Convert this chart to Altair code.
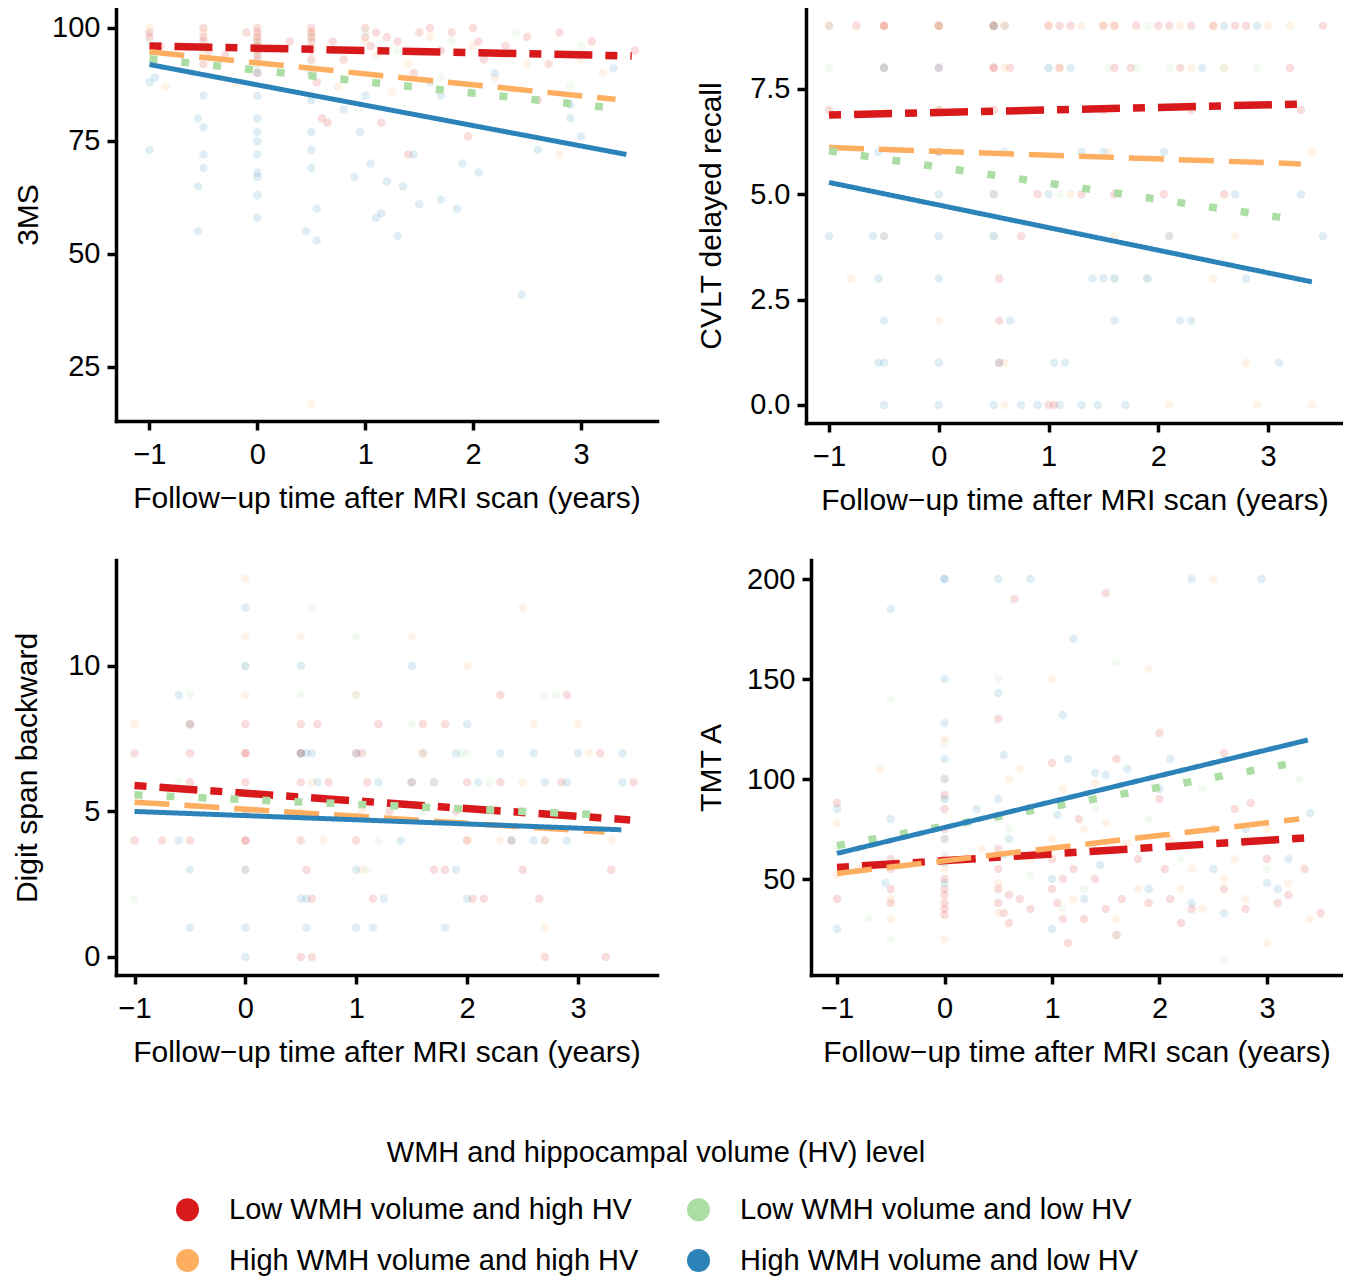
import altair as alt
import pandas as pd

FONT = "Liberation Sans"
FS_TICK = 29
FS_TITLE = 30
FS_LEG = 29

G_LH = "Low WMH volume and high HV"
G_LL = "Low WMH volume and low HV"
G_HH = "High WMH volume and high HV"
G_HL = "High WMH volume and low HV"

GROUPS = [G_LH, G_HH, G_LL, G_HL]
COLORS = ["#d7191c", "#fdae61", "#abdda4", "#2b83ba"]
DASHES = [[12, 13, 38, 13], [35, 15], [8, 24], [1, 0]]
WIDTHS = [7.5, 5.5, 7.5, 5.0]

X_TITLE = "Follow\u2212up time after MRI scan (years)"
X_TICKS = [-1, 0, 1, 2, 3]

# ---------------- 3MS ----------------
MS3_POINTS = {
    G_LH: [(-1, 99), (-1, 98), (-0.9, 96), (-0.5, 100), (-0.5, 98), (-0.5, 97), (-0.45, 95), (-0.5, 92),
           (0, 100), (0, 99), (0, 98), (0, 97), (0, 96), (0, 95), (0, 94), (0, 93), (0, 90), (0.5, 100),
           (0.5, 99), (0.5, 98), (0.5, 97), (0.5, 95), (0.5, 93), (0.55, 88), (0.6, 80), (0.7, 97),
           (1.0, 100), (1.0, 98), (1.05, 96), (1.1, 99), (1.2, 98), (1.3, 97), (1.5, 99), (1.6, 100),
           (1.7, 95), (1.8, 99), (2.0, 100), (2.05, 97), (2.1, 93), (2.3, 96), (2.5, 98), (2.7, 92),
           (2.8, 99), (3.1, 97), (3.3, 94), (3.5, 95), (1.95, 76), (1.15, 79), (0.65, 79), (0.3, 97),
           (-0.3, 94), (-0.1, 99), (1.4, 72), (2.6, 84), (0.8, 93), (1.45, 90)],
    G_HH: [(-1, 100), (-0.85, 87), (-0.5, 99), (-0.5, 95), (0, 98), (0, 96), (0, 92), (0.5, 99),
           (0.5, 96), (0.5, 90), (0.75, 87), (1.0, 97), (1.1, 94), (1.4, 92), (1.6, 98), (2.0, 96),
           (2.2, 89), (2.5, 92), (2.8, 72), (3.0, 93), (0.5, 17), (3.2, 90), (1.25, 86), (-0.2, 88)],
    G_LL: [(-1, 97), (-0.5, 96), (0, 97), (0, 94), (0, 91), (0.5, 98), (0.5, 92), (1.0, 99), (1.3, 95),
           (1.8, 97), (2.4, 99), (3.0, 96), (0.5, 85), (1.7, 89), (2.9, 87), (-0.6, 90)],
    G_HL: [(-1, 88), (-1, 73), (-0.95, 89), (-0.55, 80), (-0.5, 78), (-0.5, 72), (-0.5, 69), (-0.55, 65),
           (-0.55, 55), (-0.5, 85), (0, 90), (0, 85), (0, 80), (0, 77), (0, 75), (0, 72), (0, 68), (0, 63),
           (0, 58), (0, 67), (0.5, 90), (0.5, 84), (0.5, 77), (0.5, 73), (0.5, 69), (0.45, 55), (0.55, 53),
           (0.55, 60), (0.8, 82), (0.95, 77), (1.0, 85), (1.05, 70), (0.9, 67), (1.1, 58), (1.15, 59),
           (1.2, 66), (1.3, 54), (1.35, 65), (1.5, 61), (1.6, 88), (1.7, 62), (1.85, 60), (1.9, 70),
           (2.05, 68), (2.2, 90), (2.45, 41), (2.6, 73), (2.9, 83), (2.9, 80), (3.3, 91), (3.0, 76),
           (1.45, 72), (1.7, 85)],
}
MS3_LINES = {
    G_LH: (-1, 96.0, 3.47, 93.8),
    G_HH: (-1, 94.7, 3.32, 84.2),
    G_LL: (-1, 93.2, 3.28, 82.3),
    G_HL: (-1, 91.9, 3.42, 72.0),
}

# ---------------- CVLT ----------------
CVLT_POINTS = {
    G_LH: [(-1, 9), (-0.75, 9), (-0.5, 9), (-0.5, 9), (-0.5, 8), (0, 9), (0, 9), (0, 8), (0, 7), (0, 6),
           (0.5, 9), (0.5, 9), (0.5, 8), (0.5, 8), (0.6, 9), (0.65, 8), (0.5, 7), (1.0, 9), (1.1, 9),
           (1.1, 8), (1.2, 9), (1.5, 9), (1.6, 9), (1.6, 8), (1.8, 9), (2.0, 9), (2.1, 9), (2.2, 8),
           (2.3, 9), (2.5, 9), (2.7, 9), (2.8, 9), (3.2, 8), (3.5, 9), (1.75, 8), (2.05, 5), (0.75, 4),
           (0.55, 3), (0.55, 2), (1.0, 0), (1.05, 0), (0.55, 1), (1.5, 7), (2.3, 7), (0.9, 5), (1.6, 5),
           (2.6, 5), (-1, 7), (3.3, 7), (1.3, 5)],
    G_HH: [(-0.5, 9), (0, 9), (0, 7), (0, 2), (0.5, 9), (0.6, 8), (1.0, 9), (1.5, 9), (1.6, 9), (2.2, 9),
           (2.5, 9), (2.6, 8), (3.0, 9), (1.1, 8), (1.6, 4), (2.1, 4), (2.7, 4), (-0.5, 4), (0.6, 0),
           (2.1, 0), (2.9, 0), (3.4, 0), (3.4, 6), (1.2, 5), (-0.8, 3), (0.5, 5), (2.3, 8), (1.3, 9),
           (3.2, 9), (1.55, 6), (2.5, 3), (0.6, 1), (2.8, 1)],
    G_LL: [(-1, 9), (-1, 8), (-0.5, 8), (0, 9), (0, 7), (0.5, 9), (0.5, 4), (1.0, 8), (1.55, 8), (1.8, 8),
           (2.1, 8), (2.9, 8), (0.6, 9), (1.6, 3), (2.6, 8), (1.9, 9), (-0.5, 7), (1.1, 5), (1.9, 3)],
    G_HL: [(-1, 4), (-0.6, 4), (-0.5, 4), (-0.55, 3), (-0.5, 2), (-0.55, 1), (-0.5, 1), (-0.5, 0),
           (-0.5, 8), (-0.55, 6), (0, 8), (0, 6), (0, 5), (0, 4), (0, 3), (0, 1), (0, 0), (0.5, 5),
           (0.5, 4), (0.5, 0), (0.55, 1), (0.6, 6), (0.65, 2), (0.75, 0), (0.9, 0), (1.0, 5), (1.0, 8),
           (1.05, 1), (1.1, 0), (1.15, 1), (1.3, 0), (1.3, 6), (1.4, 3), (1.45, 0), (1.5, 3), (1.5, 6),
           (1.6, 2), (1.6, 3), (1.7, 0), (1.9, 3), (2.05, 6), (2.2, 2), (2.3, 2), (2.4, 8), (2.6, 9),
           (2.8, 3), (2.7, 5), (3.1, 1), (3.3, 5), (3.5, 4), (2.1, 4), (1.2, 8), (0.5, 9), (2.9, 9)],
}
CVLT_LINES = {
    G_LH: (-1, 6.88, 3.30, 7.14),
    G_HH: (-1, 6.11, 3.30, 5.72),
    G_LL: (-1, 6.03, 3.19, 4.42),
    G_HL: (-1, 5.28, 3.40, 2.92),
}

# ---------------- Digit span backward ----------------
DSB_POINTS = {
    G_LH: [(-1, 7), (-1, 4), (-0.75, 4), (-0.5, 8), (-0.5, 7), (-0.5, 6), (-0.5, 4), (0, 8), (0, 7), (0, 7),
           (0, 6), (0, 5), (0, 4), (0, 4), (0.5, 8), (0.5, 7), (0.5, 7), (0.5, 6), (0.5, 4), (0.55, 3),
           (0.6, 2), (0.65, 8), (0.75, 6), (1.0, 7), (1.05, 7), (1.1, 6), (1.0, 4), (1.2, 8), (1.3, 5),
           (1.15, 2), (1.5, 6), (1.6, 8), (1.6, 7), (1.7, 3), (1.8, 8), (1.8, 3), (2.0, 6), (2.05, 2),
           (2.15, 2), (2.3, 9), (2.3, 6), (2.5, 3), (2.7, 4), (2.65, 2), (2.7, 0), (2.9, 9), (2.85, 6),
           (3.2, 7), (3.3, 3), (3.25, 0), (3.5, 6), (0.5, 0), (0.6, 0), (1.9, 5), (2.0, 4), (2.4, 4)],
    G_HH: [(-1, 8), (-0.5, 8), (-0.5, 5), (0, 13), (0, 11), (0, 9), (0, 3), (0.5, 11), (0.5, 5), (1.0, 9),
           (1.05, 3), (1.5, 11), (2.0, 10), (2.5, 12), (2.6, 8), (2.5, 6), (2.8, 5), (3.0, 8), (3.3, 4),
           (2.7, 1), (1.7, 6), (1.05, 5), (0.6, 6), (2.3, 4), (3.1, 7), (2.0, 4), (0.7, 4)],
    G_LL: [(-1, 2), (-0.5, 9), (0, 10), (0.5, 9), (0.6, 12), (1.0, 11), (1.0, 9), (1.5, 8), (1.6, 7),
           (2.0, 7), (1.6, 5), (2.5, 5), (2.7, 9), (2.7, 4), (2.8, 9), (0.5, 7), (1.2, 4), (2.2, 6),
           (-0.6, 6), (1.1, 3), (1.95, 7)],
    G_HL: [(-0.6, 9), (-0.5, 8), (-0.6, 4), (-0.5, 3), (-0.5, 1), (0, 12), (0, 10), (0, 5), (0, 3), (0, 1),
           (0, 0), (0.5, 10), (0.5, 7), (0.55, 7), (0.6, 7), (0.5, 2), (0.55, 2), (0.55, 1), (0.65, 6),
           (1.0, 7), (1.0, 3), (1.0, 1), (1.15, 1), (1.25, 2), (1.2, 6), (1.5, 10), (1.5, 6), (1.7, 6),
           (1.8, 1), (1.9, 7), (2.0, 8), (2.1, 6), (2.3, 7), (2.6, 7), (2.6, 4), (2.7, 6), (2.9, 4),
           (3.0, 7), (3.4, 7), (3.4, 6), (1.9, 3), (2.0, 2), (2.9, 6), (1.4, 4), (2.4, 4)],
}
DSB_LINES = {
    G_LH: (-1, 5.89, 3.47, 4.71),
    G_HH: (-1, 5.32, 3.24, 4.29),
    G_LL: (-1, 5.57, 3.13, 4.90),
    G_HL: (-1, 5.00, 3.39, 4.37),
}

# ---------------- TMT A ----------------
TMT_POINTS = {
    G_LH: [(-1, 88), (-1, 40), (-0.5, 60), (-0.5, 55), (-0.5, 45), (-0.5, 38), (0, 92), (0, 85), (0, 75),
           (0, 60), (0, 50), (0, 45), (0, 42), (0, 38), (0, 35), (0, 32), (0.5, 65), (0.5, 55), (0.5, 45),
           (0.5, 38), (0.55, 33), (0.6, 28), (0.6, 42), (0.65, 190), (0.7, 40), (0.8, 35), (0.5, 130),
           (1.0, 108), (1.0, 60), (1.0, 45), (1.05, 38), (1.1, 50), (1.15, 18), (1.1, 30), (1.2, 55),
           (1.25, 80), (1.4, 50), (1.5, 35), (1.5, 193), (1.6, 110), (1.65, 40), (1.6, 22), (1.8, 60),
           (1.9, 38), (2.0, 123), (2.0, 90), (2.05, 55), (2.1, 40), (2.3, 35), (2.5, 75), (2.6, 113),
           (2.6, 45), (2.7, 85), (2.8, 35), (2.85, 88), (3.0, 60), (3.2, 42), (3.35, 55), (3.5, 33),
           (1.3, 30), (2.2, 28), (3.1, 38)],
    G_HH: [(-1, 78), (-1, 52), (-0.8, 55), (-0.6, 105), (-0.5, 40), (-0.5, 30), (0, 120), (0, 100), (0, 70),
           (0, 55), (0, 20), (0.5, 48), (0.5, 33), (0.6, 100), (0.7, 105), (0.8, 60), (1.0, 150), (1.1, 95),
           (1.0, 70), (1.3, 75), (1.4, 98), (1.5, 78), (1.6, 30), (1.7, 68), (1.8, 45), (1.9, 155),
           (2.1, 70), (2.2, 45), (2.3, 55), (2.4, 35), (2.6, 50), (2.7, 60), (2.8, 40), (3.0, 75),
           (3.2, 48), (3.4, 30), (1.2, 40), (2.5, 200), (0.35, 65), (3.0, 18)],
    G_LL: [(-1, 65), (-0.5, 140), (-0.5, 20), (0, 118), (0, 90), (0, 62), (0.5, 150), (0.6, 75), (0.5, 80),
           (1.0, 65), (1.1, 35), (1.6, 158), (1.6, 22), (1.9, 80), (2.2, 60), (2.6, 10), (2.8, 70),
           (3.0, 55), (0.8, 52), (1.4, 85), (2.4, 95), (-0.7, 30), (3.3, 100), (1.3, 45)],
    G_HL: [(-1, 85), (-1, 25), (-0.5, 185), (-0.5, 80), (-0.55, 48), (0, 200), (0, 200), (0, 150), (0, 128),
           (0, 110), (0, 100), (0, 90), (0, 70), (0, 58), (0, 48), (0.5, 200), (0.5, 143), (0.55, 112),
           (0.5, 90), (0.6, 70), (0.55, 62), (0.8, 200), (1.0, 50), (1.05, 82), (1.1, 132), (1.15, 110),
           (1.0, 25), (1.3, 40), (1.4, 103), (1.45, 57), (1.5, 102), (1.7, 105), (1.9, 45), (2.0, 95),
           (2.1, 110), (2.3, 38), (2.5, 55), (2.6, 33), (2.8, 75), (3.0, 48), (3.1, 45), (3.4, 83),
           (3.2, 60), (1.2, 170), (0.3, 85), (2.3, 200), (2.95, 200)],
}
TMT_LINES = {
    G_LH: (-1, 55.8, 3.44, 70.8),
    G_HH: (-1, 52.8, 3.30, 80.0),
    G_LL: (-1, 66.7, 3.20, 107.5),
    G_HL: (-1, 62.8, 3.38, 119.5),
}

LEGEND = alt.Legend(
    title="WMH and hippocampal volume (HV) level",
    orient="none", legendX=57, legendY=1131,
    columns=2, columnPadding=45, rowPadding=21,
    symbolType="circle", symbolSize=529, symbolOpacity=1, symbolStrokeWidth=0,
    labelOffset=27, labelFont=FONT, labelFontSize=FS_LEG, labelColor="black", labelLimit=0,
    titleFont=FONT, titleFontSize=FS_LEG, titleFontWeight="normal", titleColor="black",
    titleAnchor="middle", titlePadding=27, titleLimit=2000,
)


def panel(points, lines, ytitle, xdomain, ydomain, yticks, yfmt, w, h, ytpad):
    pts = pd.DataFrame(
        [{"group": g, "x": x, "y": y} for g in GROUPS for (x, y) in points[g]]
    )
    lns = pd.DataFrame(
        [{"fit": g, "x0": lines[g][0], "y0": lines[g][1], "x1": lines[g][2], "y1": lines[g][3]}
         for g in GROUPS]
    )
    xs = alt.Scale(domain=xdomain, nice=False, zero=False)
    ys = alt.Scale(domain=ydomain, nice=False, zero=False)
    xaxis = alt.Axis(values=X_TICKS, format="d", title=X_TITLE, labelPadding=10, titlePadding=14)
    yaxis = alt.Axis(values=yticks, format=yfmt, title=ytitle, labelPadding=7, titlePadding=ytpad)
    layers = [
        alt.Chart(pts).mark_circle(size=72, opacity=0.15).encode(
            x=alt.X("x:Q", scale=xs, axis=xaxis),
            y=alt.Y("y:Q", scale=ys, axis=yaxis),
            color=alt.Color("group:N", scale=alt.Scale(domain=GROUPS, range=COLORS), legend=LEGEND),
        )
    ]
    for g, c, d, sw in zip(GROUPS, COLORS, DASHES, WIDTHS):
        layers.append(
            alt.Chart(lns).transform_filter(alt.datum.fit == g)
            .mark_rule(color=c, strokeDash=d, strokeWidth=sw, strokeCap="butt")
            .encode(
                x=alt.X("x0:Q", scale=xs),
                y=alt.Y("y0:Q", scale=ys),
                x2="x1:Q",
                y2="y1:Q",
            )
        )
    return alt.layer(*layers).properties(width=w, height=h)


p1 = panel(MS3_POINTS, MS3_LINES, "3MS", [-1.310, 3.704], [13.05, 104.4],
           [25, 50, 75, 100], "d", 541, 413, 8)
p2 = panel(CVLT_POINTS, CVLT_LINES, "CVLT delayed recall", [-1.21, 3.683], [-0.43, 9.42],
           [0, 2.5, 5, 7.5], ".1f", 537, 415, 23)
p3 = panel(DSB_POINTS, DSB_LINES, "Digit span backward", [-1.167, 3.712], [-0.62, 13.64],
           [0, 5, 10], "d", 541, 415, 25)
p4 = panel(TMT_POINTS, TMT_LINES, "TMT A", [-1.242, 3.698], [2, 209.5],
           [50, 100, 150, 200], "d", 531, 415, 20)

top = alt.hconcat(p1, p2, spacing=39)
bottom = alt.hconcat(p3, p4, spacing=39)

chart = (
    alt.vconcat(top, bottom, spacing=45)
    .resolve_scale(color="shared")
    .resolve_legend(color="shared")
    .properties(padding={"left": 4, "top": 0, "right": 0, "bottom": 0})
    .configure(font=FONT)
    .configure_view(stroke=None)
    .configure_axis(
        grid=False,
        domainColor="black", domainWidth=3.5, domainCap="square",
        tickColor="black", tickWidth=3.5, tickSize=9,
        labelFont=FONT, labelFontSize=FS_TICK, labelColor="black",
        titleFont=FONT, titleFontSize=FS_TITLE, titleFontWeight="normal", titleColor="black",
    )
)

chart.save("out.html", embed_options={"renderer": "svg", "actions": False})
